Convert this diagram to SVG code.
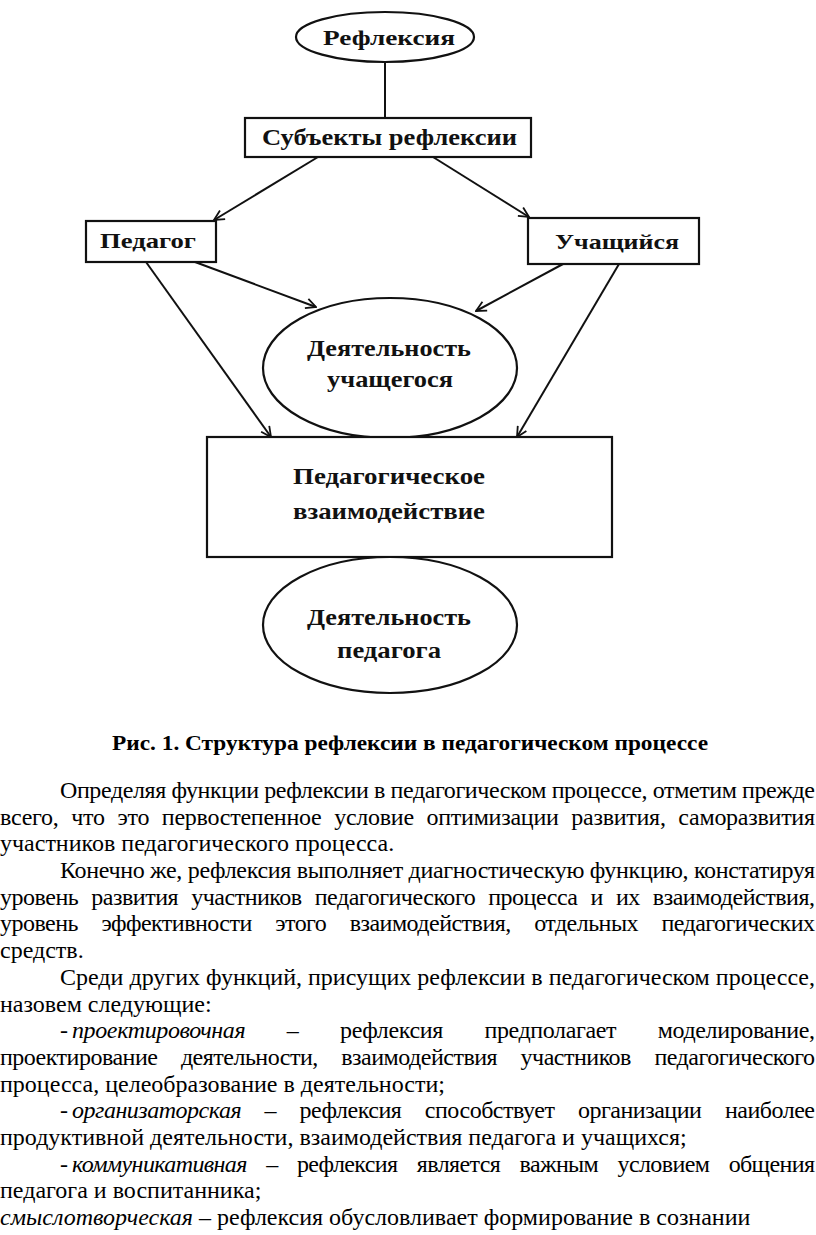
<svg xmlns="http://www.w3.org/2000/svg" width="816" height="1235" viewBox="0 0 816 1235">
<defs>
<style>
.shape{fill:#fff;stroke:#111;stroke-width:2.2}
.conn{fill:none;stroke:#111;stroke-width:2}
.lbl{font-family:'Liberation Serif','DejaVu Serif','Times New Roman',serif;font-weight:bold;fill:#111}
.cap{font-family:'Liberation Serif','DejaVu Serif','Times New Roman',serif;font-weight:bold;font-size:21px;fill:#000}
.body{font-family:'Liberation Serif','DejaVu Serif','Times New Roman',serif;font-size:24px;fill:#000}
.it{font-style:italic}
</style>
<marker id="arr" viewBox="0 0 12 12" refX="11" refY="6" markerWidth="12" markerHeight="12" markerUnits="userSpaceOnUse" orient="auto">
<path d="M1,1 L11,6 L1,11" fill="none" stroke="#111" stroke-width="1.8"/>
</marker>
</defs>
<rect width="816" height="1235" fill="#fff"/>

<g id="connectors">
<line class="conn" x1="385" y1="62" x2="385" y2="118"/>
<line class="conn" x1="318" y1="157" x2="214" y2="220" marker-end="url(#arr)"/>
<line class="conn" x1="433" y1="157" x2="529" y2="217" marker-end="url(#arr)"/>
<line class="conn" x1="195" y1="262" x2="316" y2="307" marker-end="url(#arr)"/>
<line class="conn" x1="146" y1="262" x2="271" y2="437" marker-end="url(#arr)"/>
<line class="conn" x1="563" y1="264" x2="476" y2="311" marker-end="url(#arr)"/>
<line class="conn" x1="619" y1="264" x2="517" y2="437" marker-end="url(#arr)"/>
</g>

<g id="node-refleksiya">
<ellipse class="shape" cx="385" cy="37" rx="89" ry="25"/>
<text class="lbl" x="323" y="45" font-size="22" textLength="132" lengthAdjust="spacingAndGlyphs">Рефлексия</text>
</g>

<g id="node-subekty">
<rect class="shape" x="245" y="118" width="286" height="39"/>
<text class="lbl" x="262" y="145" font-size="24" textLength="255" lengthAdjust="spacingAndGlyphs">Субъекты рефлексии</text>
</g>

<g id="node-pedagog">
<rect class="shape" x="86" y="221" width="130" height="41"/>
<text class="lbl" x="100" y="248" font-size="22" textLength="96" lengthAdjust="spacingAndGlyphs">Педагог</text>
</g>

<g id="node-uchashchiysya">
<rect class="shape" x="528" y="218" width="171" height="46"/>
<text class="lbl" x="555" y="249" font-size="22" textLength="124" lengthAdjust="spacingAndGlyphs">Учащийся</text>
</g>

<g id="node-deyat-uch">
<ellipse class="shape" cx="390" cy="368" rx="127" ry="70"/>
<text class="lbl" x="307" y="356" font-size="23" textLength="164" lengthAdjust="spacingAndGlyphs">Деятельность</text>
<text class="lbl" x="327" y="387" font-size="23" textLength="126" lengthAdjust="spacingAndGlyphs">учащегося</text>
</g>

<g id="node-vzaimodeystvie">
<rect class="shape" x="207" y="437" width="405" height="120"/>
<text class="lbl" x="293" y="484" font-size="24" textLength="192" lengthAdjust="spacingAndGlyphs">Педагогическое</text>
<text class="lbl" x="293" y="519" font-size="24" textLength="192" lengthAdjust="spacingAndGlyphs">взаимодействие</text>
</g>

<g id="node-deyat-ped">
<ellipse class="shape" cx="390" cy="625" rx="127" ry="68"/>
<text class="lbl" x="307" y="625" font-size="24" textLength="164" lengthAdjust="spacingAndGlyphs">Деятельность</text>
<text class="lbl" x="337" y="658" font-size="24" textLength="104" lengthAdjust="spacingAndGlyphs">педагога</text>
</g>

<g id="caption">
<text class="cap" x="112" y="750" textLength="596" lengthAdjust="spacingAndGlyphs">Рис. 1. Структура рефлексии в педагогическом процессе</text>
</g>

<g id="body">
<text class="body" x="60" y="798" textLength="755" lengthAdjust="spacing">Определяя функции рефлексии в педагогическом процессе, отметим прежде</text>
<text class="body" x="0" y="825" word-spacing="7" textLength="815" lengthAdjust="spacing">всего, что это первостепенное условие оптимизации развития, саморазвития</text>
<text class="body" x="0" y="851">участников педагогического процесса.</text>
<text class="body" x="60" y="878" textLength="755" lengthAdjust="spacing">Конечно же, рефлексия выполняет диагностическую функцию, констатируя</text>
<text class="body" x="0" y="905" word-spacing="7.5" textLength="815" lengthAdjust="spacing">уровень развития участников педагогического процесса и их взаимодействия,</text>
<text class="body" x="0" y="931" word-spacing="18" textLength="815" lengthAdjust="spacing">уровень эффективности этого взаимодействия, отдельных педагогических</text>
<text class="body" x="0" y="958">средств.</text>
<text class="body" x="60" y="985" textLength="755" lengthAdjust="spacing">Среди других функций, присущих рефлексии в педагогическом процессе,</text>
<text class="body" x="0" y="1012">назовем следующие:</text>
<text class="body" x="60" y="1038">-</text>
<text class="body" x="72" y="1038" word-spacing="36" textLength="743" lengthAdjust="spacing"><tspan class="it">проектировочная</tspan> – рефлексия предполагает моделирование,</text>
<text class="body" x="0" y="1065" word-spacing="18" textLength="815" lengthAdjust="spacing">проектирование деятельности, взаимодействия участников педагогического</text>
<text class="body" x="0" y="1092">процесса, целеобразование в деятельности;</text>
<text class="body" x="60" y="1118">-</text>
<text class="body" x="72" y="1118" word-spacing="18" textLength="743" lengthAdjust="spacing"><tspan class="it">организаторская</tspan> – рефлексия способствует организации наиболее</text>
<text class="body" x="0" y="1145">продуктивной деятельности, взаимодействия педагога и учащихся;</text>
<text class="body" x="60" y="1172">-</text>
<text class="body" x="72" y="1172" word-spacing="14" textLength="743" lengthAdjust="spacing"><tspan class="it">коммуникативная</tspan> – рефлексия является важным условием общения</text>
<text class="body" x="0" y="1198">педагога и воспитанника;</text>
<text class="body" x="0" y="1225"><tspan class="it">смыслотворческая</tspan> – рефлексия обусловливает формирование в сознании</text>
</g>
</svg>
